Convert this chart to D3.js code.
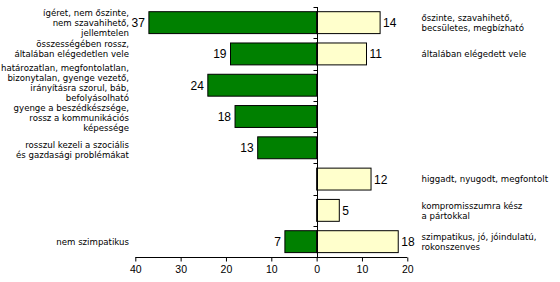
<!DOCTYPE html>
<html>
<head>
<meta charset="utf-8">
<script src="https://cdn.jsdelivr.net/npm/d3@7"></script>
<style>
  body { margin: 0; background: #fff; }
  svg { display: block; }
  .lbl { font-family: "DejaVu Sans", sans-serif; font-size: 8.6px; fill: #000; }
  .val { font-family: "Liberation Sans", Arial, sans-serif; font-size: 12px; fill: #000; }
  .tick text { font-family: "Liberation Sans", Arial, sans-serif; font-size: 10.5px; }
</style>
</head>
<body>
<svg id="chart"></svg>
<script>
// Data
const categories = ["c1", "c2", "c3", "c4", "c5", "c6", "c7", "c8"]
const negValues = [37, 19, 24, 18, 13, 0, 0, 7]
const posValues = [14, 11, 0, 0, 0, 12, 5, 18]
const negLabels = [
    ["ígéret, nem őszinte,", "nem szavahihető,", "jellemtelen"],
    ["összességében rossz,", "általában elégedetlen vele"],
    ["határozatlan, megfontolatlan,", "bizonytalan, gyenge vezető,", "irányításra szorul, báb,", "befolyásolható"],
    ["gyenge a beszédkészsége,", "rossz a kommunikációs", "képessége"],
    ["rosszul kezeli a szociális", "és gazdasági problémákat"],
    [],
    [],
    ["nem szimpatikus"]
]
const posLabels = [
    ["őszinte, szavahihető,", "becsületes, megbízható"],
    ["általában elégedett vele"],
    [],
    [],
    [],
    ["higgadt, nyugodt, megfontolt"],
    ["kompromisszumra kész", "a pártokkal"],
    ["szimpatikus, jó, jóindulatú,", "rokonszenves"]
]
const xTicks = [-40, -30, -20, -10, 0, 10, 20]

const width = 560
const height = 282
const lineH = 10

const svg = d3.select("#chart").attr("width", width).attr("height", height)

const x = d3.scaleLinear().domain([-40, 20]).range([135.3, 407.3])
const y = d3.scaleBand().domain(categories).range([7, 257.3])
    .paddingInner(0.3).paddingOuter(0.15)

// bars
svg.append("g").selectAll("rect")
    .data(categories.filter((c, i) => negValues[i] > 0))
    .join("rect")
    .attr("x", c => x(-negValues[categories.indexOf(c)]))
    .attr("y", c => y(c))
    .attr("width", c => x(0) - x(-negValues[categories.indexOf(c)]))
    .attr("height", y.bandwidth())
    .attr("fill", "#008000")
    .attr("stroke", "#000")
    .attr("stroke-width", 1)

svg.append("g").selectAll("rect")
    .data(categories.filter((c, i) => posValues[i] > 0))
    .join("rect")
    .attr("x", x(0))
    .attr("y", c => y(c))
    .attr("width", c => x(posValues[categories.indexOf(c)]) - x(0))
    .attr("height", y.bandwidth())
    .attr("fill", "#ffffcc")
    .attr("stroke", "#000")
    .attr("stroke-width", 1)

// value labels
categories.forEach(function (c, i) {
    var cy = y(c) + y.bandwidth() / 2
    if (negValues[i] > 0) {
        svg.append("text").attr("class", "val")
            .attr("x", x(-negValues[i]) - 4)
            .attr("y", cy + 4.5)
            .attr("text-anchor", "end")
            .text(negValues[i])
    }
    if (posValues[i] > 0) {
        svg.append("text").attr("class", "val")
            .attr("x", x(posValues[i]) + 3)
            .attr("y", cy + 4.5)
            .text(posValues[i])
    }
})

// category labels
// the text boxes on the left are not exactly centred on their bars in the original
function leftNudge(i) {
    switch (i) {
        case 1: return -5;
        case 2: return -2.5;
        case 3: return 1.5;
        case 4: return 2;
    }
    return 0
}

function drawLabels(lines, i, xPos, anchor) {
    if (!lines.length) return
    var cy = y(categories[i]) + y.bandwidth() / 2
    var top = cy - (lines.length - 1) * lineH / 2 + (anchor == "end" ? leftNudge(i) : 0)
    svg.append("text").attr("class", "lbl")
        .attr("text-anchor", anchor)
        .selectAll("tspan")
        .data(lines)
        .join("tspan")
        .attr("x", xPos)
        .attr("y", (d, k) => top + k * lineH + 3.2)
        .text(d => d)
}
negLabels.forEach((l, i) => drawLabels(l, i, 129, "end"))
posLabels.forEach((l, i) => drawLabels(l, i, 421.5, "start"))

// vertical axis with ticks between categories
const yAxis = svg.append("g").attr("transform", `translate(${Math.round(x(0)) + 0.5},0)`)
yAxis.append("line").attr("y1", 7).attr("y2", 257.3).attr("stroke", "#000")
yAxis.selectAll("line.t")
    .data(d3.range(categories.length + 1))
    .join("line").attr("class", "t")
    .attr("x1", -4).attr("x2", 0)
    .attr("y1", k => Math.round(7 + k * y.step()) + 0.5)
    .attr("y2", k => Math.round(7 + k * y.step()) + 0.5)
    .attr("stroke", "#000")

// horizontal axis
const xAxis = svg.append("g")
    .attr("transform", "translate(0,257.5)")
    .call(d3.axisBottom(x).tickValues(xTicks).tickSize(4).tickPadding(4)
        .tickFormat(d => Math.abs(d)))
xAxis.select(".domain").attr("d", `M${x(-40)},0H${x(20)}`)
</script>
</body>
</html>
